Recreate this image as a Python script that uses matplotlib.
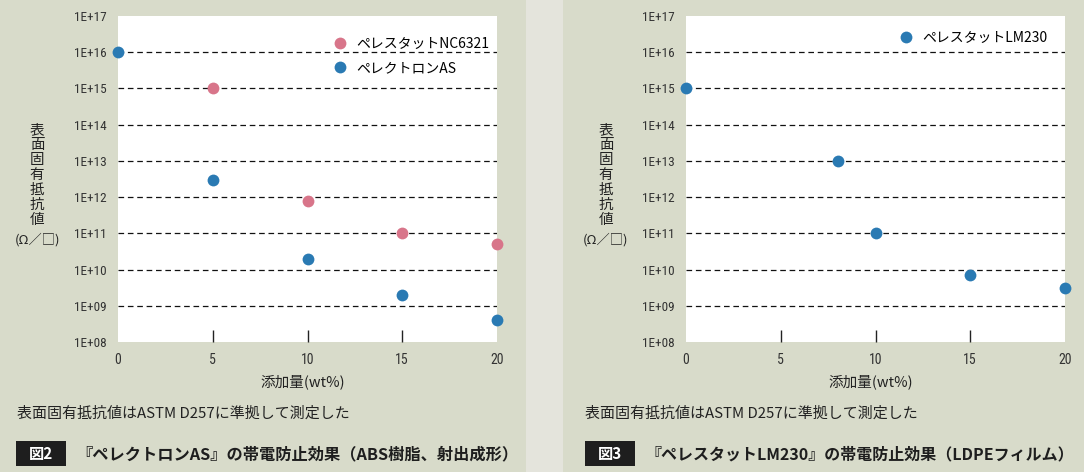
import matplotlib
matplotlib.use("Agg")
import matplotlib.pyplot as plt
from matplotlib.patches import Rectangle
import numpy as np

plt.rcParams['font.family'] = ['Noto Sans CJK JP', 'DejaVu Sans']
NARROW = ['Roboto Condensed', 'DejaVu Sans']

# data
nc_x = [5, 10, 15, 20]
nc_y = [1e15, 8e11, 1e11, 5e10]
as_x = [0, 5, 10, 15, 20]
as_y = [1e16, 3e12, 2e10, 2e9, 4e8]
lm_x = [0, 8, 10, 15, 20]
lm_y = [1e15, 1e13, 1e11, 7e9, 3e9]

x_ticks = [0, 5, 10, 15, 20]
decades = list(range(8, 18))

PINK = '#d8758a'
BLUE = '#2a7ab3'
BG = '#d8dbca'
GAP = '#e4e4dc'

W, H = 1084, 472
fig = plt.figure(figsize=(W / 100, H / 100), dpi=100, facecolor=BG)
fig.patches.append(Rectangle((526 / W, 0), 37 / W, 1, transform=fig.transFigure,
                             facecolor=GAP, edgecolor='none', zorder=0))


def px(x, y):
    return x / W, 1 - y / H


def make_panel(x0, x1):
    ax = fig.add_axes([x0 / W, 1 - 342 / H, (x1 - x0) / W, (342 - 16) / H])
    ax.set_facecolor('white')
    ax.set_yscale('log')
    ax.set_ylim(1e8, 1e17)
    ax.set_xlim(0, 20)
    for s in ax.spines.values():
        s.set_visible(False)
    ax.set_yticks([10.0 ** d for d in decades])
    ax.set_yticklabels(['1E+%02d' % d for d in decades], family=NARROW)
    ax.yaxis.set_minor_locator(matplotlib.ticker.NullLocator())
    ax.tick_params(axis='y', length=0, pad=8, labelsize=9.5, labelcolor='#333333')
    ax.set_xticks(x_ticks)
    ax.set_xticklabels([str(t) for t in x_ticks], family=NARROW)
    ax.tick_params(axis='x', length=0, pad=8, labelsize=10, labelcolor='#333333')
    ax.xaxis.remove_overlapping_locs = False
    ax.set_xticks(x_ticks[1:-1], minor=True)
    ax.tick_params(axis='x', which='minor', direction='in', length=9, width=1, color='#222222')
    for d in decades[1:-1]:
        ax.axhline(10.0 ** d, color='#111111', lw=0.9, ls=(0, (4.5, 3)), zorder=1)
    return ax


def panel_text(cx):
    ylab = '表\n面\n固\n有\n抵\n抗\n値'
    fig.text(*px(cx, 175), ylab, ha='center', va='center', fontsize=10.5,
             linespacing=1.1, color='#222222')
    fig.text(*px(cx, 240), '(Ω／□)', ha='center', va='center', fontsize=9.5, color='#222222')


ax1 = make_panel(118, 497)
ax1.plot(nc_x, nc_y, 'o', color=PINK, ms=8.5, mec='none', clip_on=False, zorder=3,
         label='ペレスタットNC6321')
ax1.plot(as_x, as_y, 'o', color=BLUE, ms=8.5, mec='none', clip_on=False, zorder=3,
         label='ペレクトロンAS')
ax1.legend(loc='upper right', bbox_to_anchor=(1.005, 0.967), frameon=False, fontsize=10,
           handletextpad=0.2, labelspacing=0.75, borderaxespad=0.3)

ax2 = make_panel(686, 1065)
ax2.plot(lm_x, lm_y, 'o', color=BLUE, ms=8.5, mec='none', clip_on=False, zorder=3,
         label='ペレスタットLM230')
ax2.legend(loc='upper right', bbox_to_anchor=(0.98, 0.985), frameon=False, fontsize=10,
           handletextpad=0.2, borderaxespad=0.3)

panel_text(37)
panel_text(606)

fig.text(*px(303, 382), '添加量(wt%)', ha='center', va='center', fontsize=10.5, color='#222222')
fig.text(*px(871, 382), '添加量(wt%)', ha='center', va='center', fontsize=10.5, color='#222222')

note = '表面固有抵抗値はASTM D257に準拠して測定した'
fig.text(*px(17, 414), note, ha='left', va='center', fontsize=10.8, color='#222222')
fig.text(*px(585, 414), note, ha='left', va='center', fontsize=10.8, color='#222222')

titles = [
    (16, '図2', '『ペレクトロンAS』の帯電防止効果（ABS樹脂、射出成形）', 11.7),
    (585, '図3', '『ペレスタットLM230』の帯電防止効果（LDPEフィルム）', 11.5),
]
for x0, tag, title, fs in titles:
    fig.patches.append(Rectangle(px(x0, 466), 50 / W, 25 / H, transform=fig.transFigure,
                                 facecolor='#1e1e1e', edgecolor='none'))
    fig.text(*px(x0 + 25, 454), tag, ha='center', va='center', fontsize=11,
             fontweight='bold', color='white')
    fig.text(*px(x0 + 60, 454), title, ha='left', va='center', fontsize=fs,
             fontweight='bold', color='#1e1e1e')

fig.savefig('out.png', dpi=100, facecolor=BG)
